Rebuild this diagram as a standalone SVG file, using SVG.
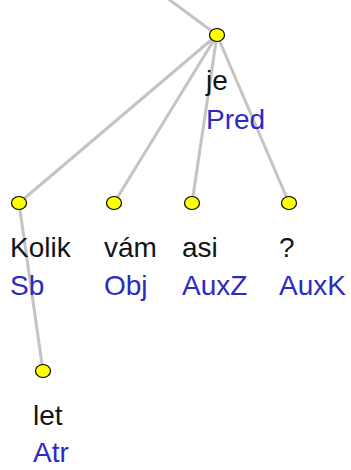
<svg xmlns="http://www.w3.org/2000/svg" width="351" height="470" viewBox="0 0 351 470">
<style>
.e{stroke:#c4c4c4;stroke-width:3;fill:none;stroke-linecap:round}
.n{fill:#ffff00;stroke:#000;stroke-width:1.2}
.w{font-family:"Liberation Sans",Arial,sans-serif;font-size:28px;fill:#141414}
.f{font-family:"Liberation Sans",Arial,sans-serif;font-size:28px;fill:#2b2bc4}
</style>
<rect width="351" height="470" fill="#fff"/>
<g id="edges">
<line class="e" x1="163" y1="-5" x2="217" y2="35"/>
<line class="e" x1="217" y1="35" x2="19" y2="203"/>
<line class="e" x1="217" y1="35" x2="114" y2="203"/>
<line class="e" x1="217" y1="35" x2="192" y2="203"/>
<line class="e" x1="217" y1="35" x2="289" y2="203"/>
<line class="e" x1="19" y1="203" x2="43" y2="371"/>
</g>
<g id="je"><ellipse class="n" cx="217" cy="35" rx="7.5" ry="6.5"/><text class="w" x="206" y="90">je</text><text class="f" x="206" y="129">Pred</text></g>
<g id="kolik"><ellipse class="n" cx="19" cy="203" rx="7.5" ry="6.5"/><text class="w" x="10" y="257">Kolik</text><text class="f" x="10" y="295">Sb</text></g>
<g id="vam"><ellipse class="n" cx="114" cy="203" rx="7.5" ry="6.5"/><text class="w" x="104" y="257">vám</text><text class="f" x="104" y="295">Obj</text></g>
<g id="asi"><ellipse class="n" cx="192" cy="203" rx="7.5" ry="6.5"/><text class="w" x="182" y="257">asi</text><text class="f" x="182" y="295">AuxZ</text></g>
<g id="q"><ellipse class="n" cx="289" cy="203" rx="7.5" ry="6.5"/><text class="w" x="279" y="257">?</text><text class="f" x="279" y="295">AuxK</text></g>
<g id="let"><ellipse class="n" cx="43" cy="371" rx="7.5" ry="6.5"/><text class="w" x="33" y="425">let</text><text class="f" x="33" y="462">Atr</text></g>
</svg>
